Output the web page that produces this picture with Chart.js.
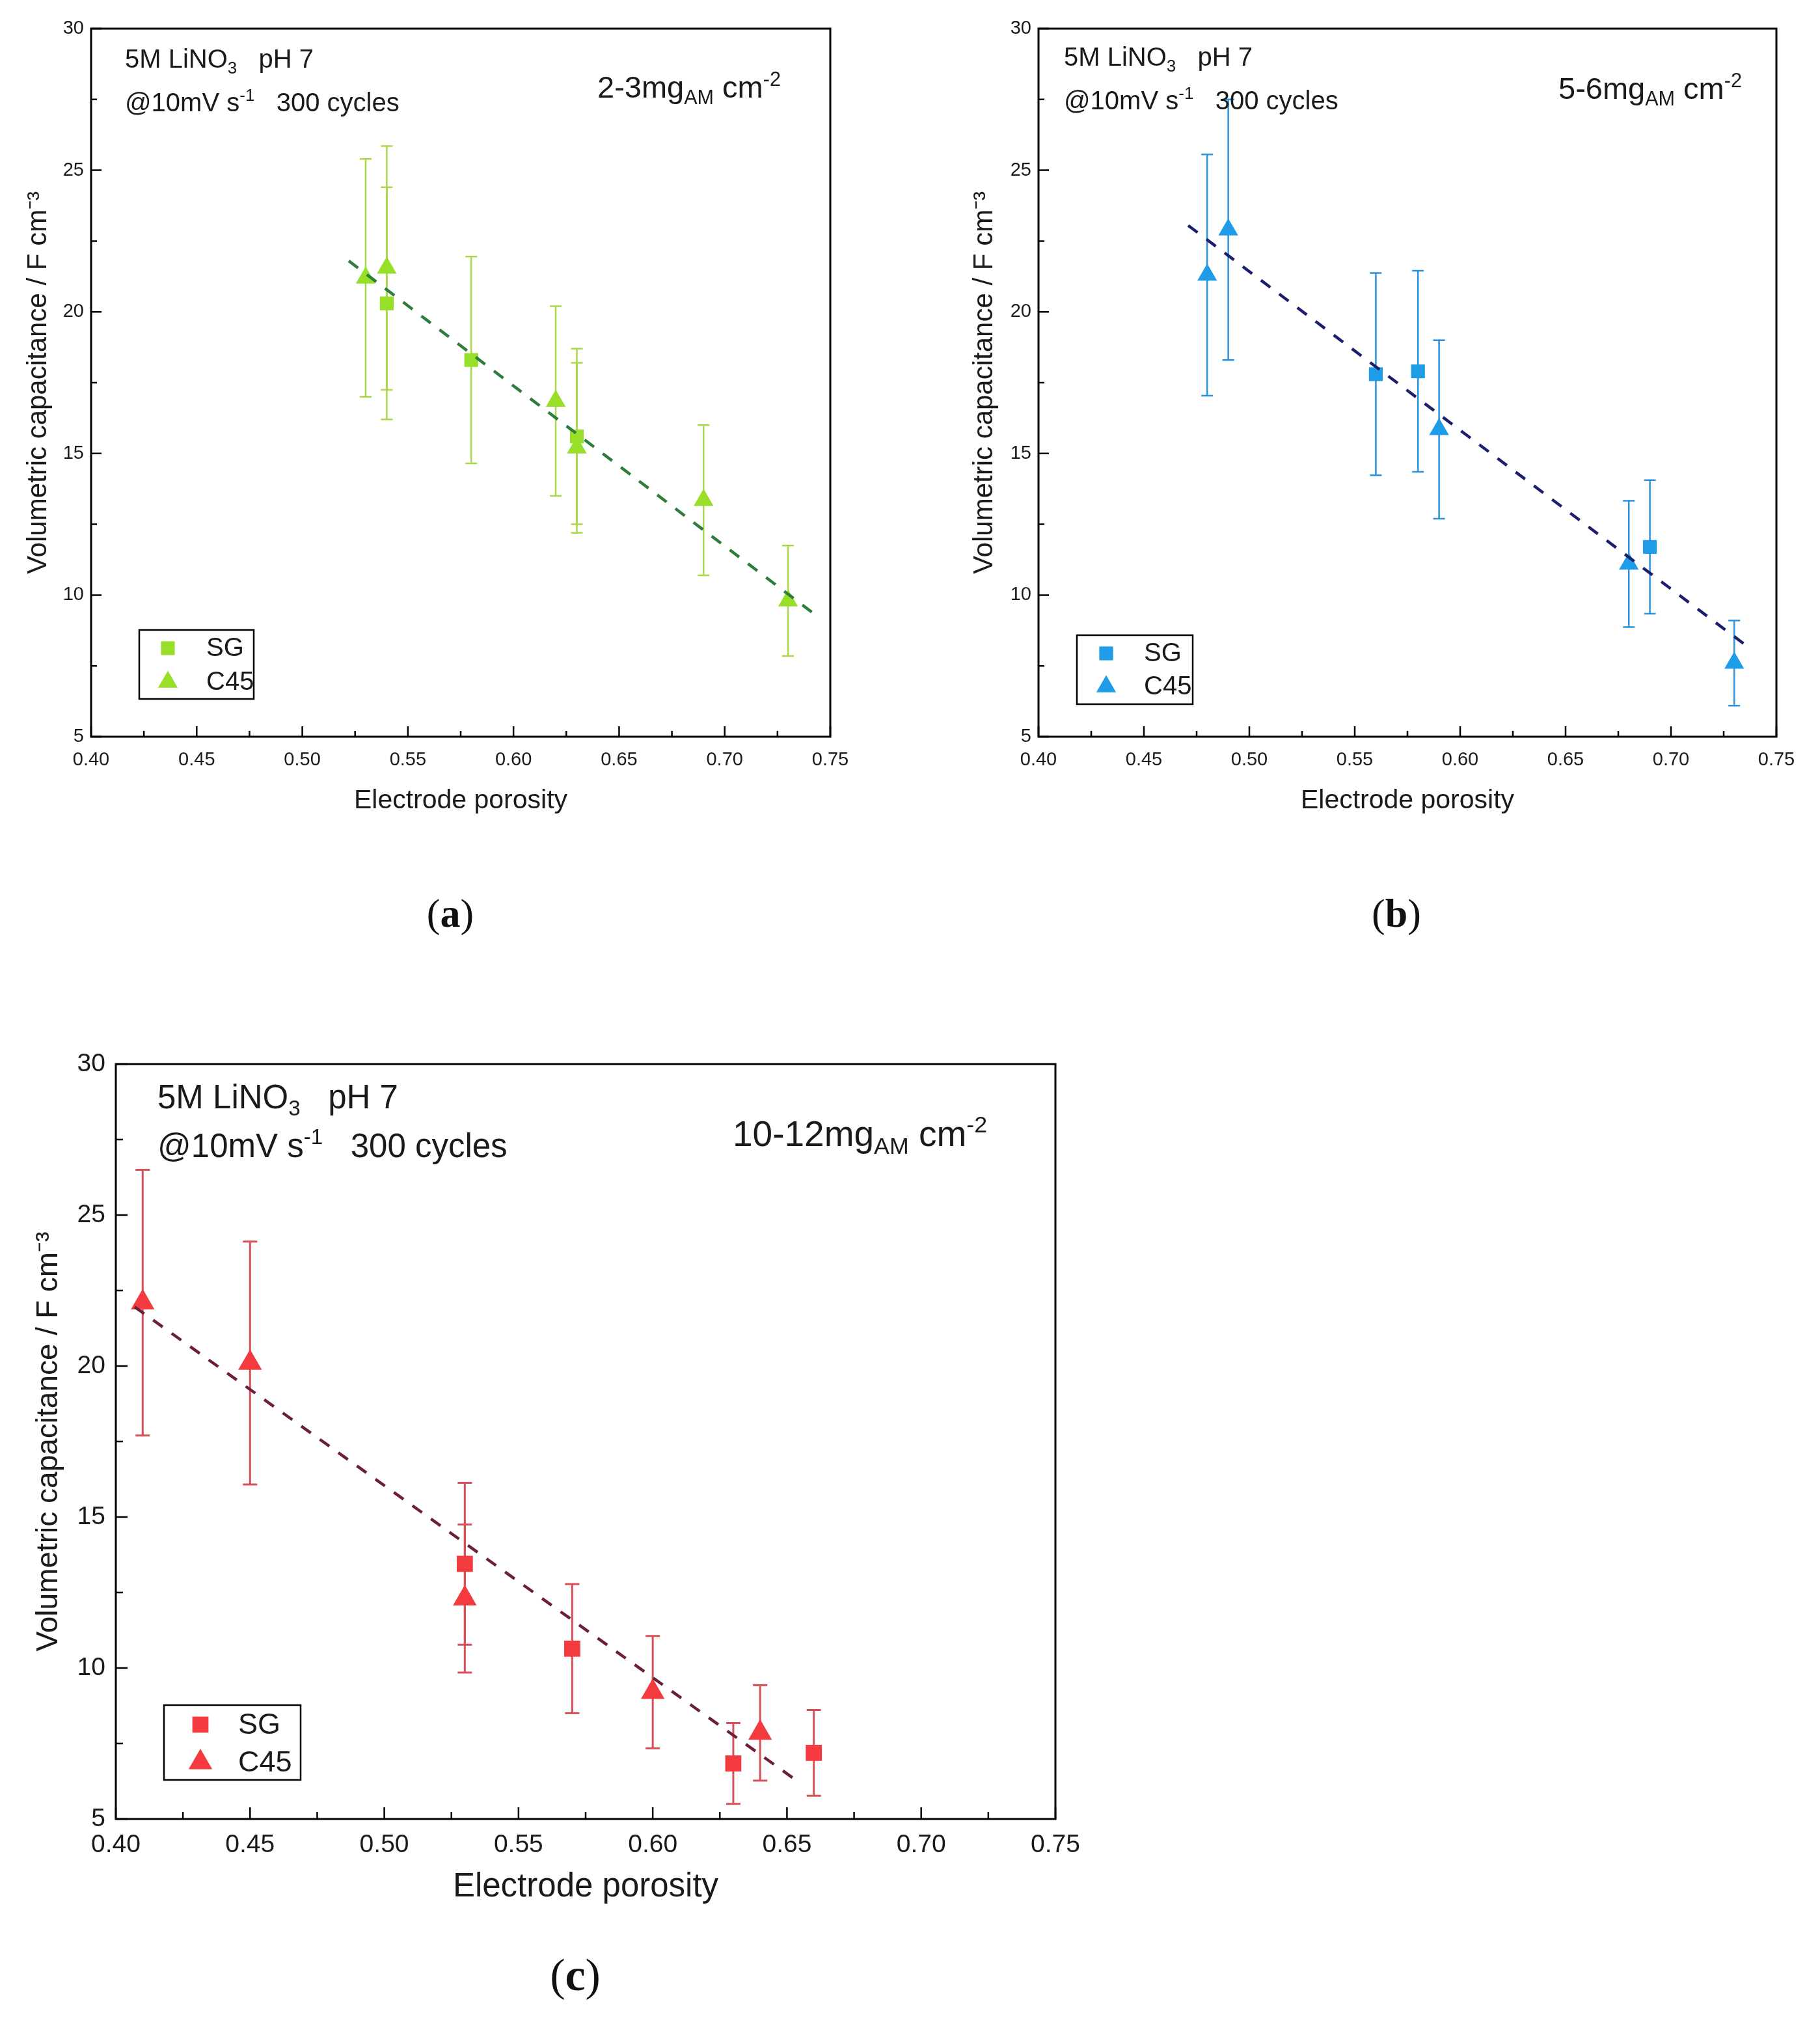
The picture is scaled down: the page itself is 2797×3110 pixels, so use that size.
<!DOCTYPE html>
<html><head><meta charset="utf-8">
<script src="https://cdn.jsdelivr.net/npm/chart.js@4.4.1/dist/chart.umd.min.js"></script>
<style>
html,body{margin:0;padding:0;background:#fff;}
#page{position:relative;width:2797px;height:3110px;overflow:hidden;background:#fff;}
canvas{position:absolute;}
.ann{position:absolute;line-height:1;white-space:nowrap;font-family:'Liberation Sans',Arial,sans-serif;color:#1a1a1a;}
.sub{font-size:0.65em;position:relative;top:0.33em;}
.sup{font-size:0.65em;position:relative;top:-0.6em;}
.cap{position:absolute;line-height:1;white-space:nowrap;font-family:'Liberation Serif','Times New Roman',serif;color:#111;transform:translateX(-50%);}
</style></head>
<body><div id="page">
<canvas id="cA" width="1340" height="1300" style="left:0px;top:0px;width:1340px;height:1300px"></canvas>
<canvas id="cB" width="1337" height="1300" style="left:1460px;top:0px;width:1337px;height:1300px"></canvas>
<canvas id="cC" width="1700" height="1450" style="left:0px;top:1550px;width:1700px;height:1450px"></canvas>

<div class="ann" style="left:192px;top:70px;font-size:40px">5M LiNO<span class="sub">3</span>&nbsp;&nbsp;&nbsp;pH 7</div>
<div class="ann" style="left:192px;top:137px;font-size:40px">@10mV s<span class="sup">-1</span>&nbsp;&nbsp;&nbsp;300 cycles</div>
<div class="ann" style="left:918px;top:110px;font-size:47px">2-3mg<span class="sub">AM</span> cm<span class="sup">-2</span></div>

<div class="ann" style="left:1635px;top:67px;font-size:40px">5M LiNO<span class="sub">3</span>&nbsp;&nbsp;&nbsp;pH 7</div>
<div class="ann" style="left:1635px;top:134px;font-size:40px">@10mV s<span class="sup">-1</span>&nbsp;&nbsp;&nbsp;300 cycles</div>
<div class="ann" style="left:2395px;top:112px;font-size:47px">5-6mg<span class="sub">AM</span> cm<span class="sup">-2</span></div>

<div class="ann" style="left:242px;top:1660px;font-size:51px">5M LiNO<span class="sub">3</span>&nbsp;&nbsp;&nbsp;pH 7</div>
<div class="ann" style="left:242px;top:1735px;font-size:51px">@10mV s<span class="sup">-1</span>&nbsp;&nbsp;&nbsp;300 cycles</div>
<div class="ann" style="left:1126px;top:1715px;font-size:55px">10-12mg<span class="sub">AM</span> cm<span class="sup">-2</span></div>

<div class="cap" style="left:692px;top:1372px;font-size:62px">(<b>a</b>)</div>
<div class="cap" style="left:2146px;top:1372px;font-size:62px">(<b>b</b>)</div>
<div class="cap" style="left:884px;top:3000px;font-size:70px">(<b>c</b>)</div>
</div>
<script>
// ---------- shared axis text ----------
const xTickValues = [0.40, 0.45, 0.50, 0.55, 0.60, 0.65, 0.70, 0.75];
const xTickLabels = ['0.40', '0.45', '0.50', '0.55', '0.60', '0.65', '0.70', '0.75'];
const yTickValues = [5, 10, 15, 20, 25, 30];
const yTickLabels = ['5', '10', '15', '20', '25', '30'];
const seriesNames = ['SG', 'C45'];
const xTitle = 'Electrode porosity';
const yTitle = 'Volumetric capacitance / F cm\u207B\u00B3';

// ---------- (a) 2-3 mg_AM cm-2 ----------
const aSGx = [0.54, 0.58, 0.63];
const aSGy = [20.3, 18.3, 15.6];
const aSGerr = [4.1, 3.65, 3.1];
const aC45x = [0.53, 0.54, 0.62, 0.63, 0.69, 0.73];
const aC45y = [21.2, 21.55, 16.85, 15.2, 13.35, 9.8];
const aC45err = [4.2, 4.3, 3.35, 3.0, 2.65, 1.95];
const aFitX = [0.522, 0.743];
const aFitY = [21.8, 9.3];

// ---------- (b) 5-6 mg_AM cm-2 ----------
const bSGx = [0.56, 0.58, 0.69];
const bSGy = [17.8, 17.9, 11.7];
const bSGerr = [3.57, 3.55, 2.36];
const bC45x = [0.48, 0.49, 0.59, 0.68, 0.73];
const bC45y = [21.3, 22.9, 15.85, 11.1, 7.6];
const bC45err = [4.26, 4.6, 3.15, 2.23, 1.5];
const bFitX = [0.471, 0.736];
const bFitY = [23.05, 8.2];

// ---------- (c) 10-12 mg_AM cm-2 ----------
const cSGx = [0.53, 0.57, 0.63, 0.66];
const cSGy = [13.45, 10.64, 6.84, 7.19];
const cSGerr = [2.68, 2.14, 1.34, 1.42];
const cC45x = [0.41, 0.45, 0.53, 0.60, 0.64];
const cC45y = [22.1, 20.1, 12.3, 9.2, 7.85];
const cC45err = [4.4, 4.02, 2.45, 1.86, 1.58];
const cFitX = [0.407, 0.653];
const cFitY = [21.96, 6.31];

const FONT = "'Liberation Sans', Arial, sans-serif";
const TXT = '#1a1a1a';
Chart.defaults.font.family = FONT;
Chart.defaults.color = TXT;

function pts(xs, ys) { return xs.map((x, i) => ({ x: x, y: ys[i] })); }

function drawMarker(ctx, style, r, x, y) {
  ctx.beginPath();
  if (style === 'rect') {
    const s = r * Math.SQRT1_2;
    ctx.rect(x - s, y - s, 2 * s, 2 * s);
  } else {
    let rad = 0;
    const step = 2 * Math.PI / 3;
    ctx.moveTo(x + Math.sin(rad) * r, y - Math.cos(rad) * r);
    rad += step; ctx.lineTo(x + Math.sin(rad) * r, y - Math.cos(rad) * r);
    rad += step; ctx.lineTo(x + Math.sin(rad) * r, y - Math.cos(rad) * r);
    ctx.closePath();
  }
  ctx.fill();
}

const decoPlugin = {
  id: 'deco',
  beforeDatasetsDraw(chart, args, o) {
    const ctx = chart.ctx, ys = chart.scales.y;
    ctx.save();
    ctx.lineWidth = o.errWidth;
    ctx.strokeStyle = o.errColor;
    o.errors.forEach((errs, k) => {
      const di = k + 1;
      const ds = chart.data.datasets[di];
      const meta = chart.getDatasetMeta(di);
      meta.data.forEach((el, i) => {
        const v = ds.data[i].y, e = errs[i];
        const t = ys.getPixelForValue(v + e), b = ys.getPixelForValue(v - e), px = el.x;
        ctx.beginPath();
        ctx.moveTo(px, t); ctx.lineTo(px, b);
        ctx.moveTo(px - o.cap, t); ctx.lineTo(px + o.cap, t);
        ctx.moveTo(px - o.cap, b); ctx.lineTo(px + o.cap, b);
        ctx.stroke();
      });
    });
    ctx.restore();
  },
  afterDraw(chart, args, o) {
    const ctx = chart.ctx, ca = chart.chartArea, xs = chart.scales.x, ys = chart.scales.y;
    ctx.save();
    ctx.strokeStyle = '#000';
    ctx.lineWidth = o.frame;
    ctx.strokeRect(ca.left, ca.top, ca.right - ca.left, ca.bottom - ca.top);
    ctx.lineWidth = o.tickWidth;
    const mid = arr => arr.slice(1).map((v, i) => (v + arr[i]) / 2);
    const xv = xs.ticks.map(t => t.value), yv = ys.ticks.map(t => t.value);
    ctx.beginPath();
    xv.forEach(v => { const p = xs.getPixelForValue(v); ctx.moveTo(p, ca.bottom); ctx.lineTo(p, ca.bottom - o.major); });
    mid(xv).forEach(v => { const p = xs.getPixelForValue(v); ctx.moveTo(p, ca.bottom); ctx.lineTo(p, ca.bottom - o.minor); });
    yv.forEach(v => { const p = ys.getPixelForValue(v); ctx.moveTo(ca.left, p); ctx.lineTo(ca.left + o.major, p); });
    mid(yv).forEach(v => { const p = ys.getPixelForValue(v); ctx.moveTo(ca.left, p); ctx.lineTo(ca.left + o.minor, p); });
    ctx.stroke();
    // legend box
    const L = o.legend;
    ctx.lineWidth = L.border;
    ctx.strokeRect(L.x1, L.y1, L.x2 - L.x1, L.y2 - L.y1);
    [1, 2].forEach((di, r) => {
      const ds = chart.data.datasets[di];
      const cy = L.rows[r];
      ctx.fillStyle = ds.backgroundColor;
      drawMarker(ctx, ds.pointStyle, ds.pointRadius, L.mx, cy);
      ctx.fillStyle = TXT;
      ctx.font = L.fontSize + 'px ' + FONT;
      ctx.textBaseline = 'middle';
      ctx.textAlign = 'left';
      ctx.fillText(ds.label, L.tx, cy + L.fontSize * 0.03);
    });
    ctx.restore();
  }
};

function makePanel(id, p) {
  return new Chart(document.getElementById(id), {
    type: 'scatter',
    data: {
      datasets: [
        { label: 'fit', data: pts(p.fitX, p.fitY), showLine: true, borderColor: p.fitColor, borderWidth: p.fitWidth,
          borderDash: p.dash, pointRadius: 0, pointHoverRadius: 0, fill: false, order: 0 },
        { label: seriesNames[0], data: pts(p.sgX, p.sgY), pointStyle: 'rect', pointRadius: p.sqR, pointHoverRadius: p.sqR,
          backgroundColor: p.color, borderColor: p.color, borderWidth: 0, order: 2 },
        { label: seriesNames[1], data: pts(p.c45X, p.c45Y), pointStyle: 'triangle', pointRadius: p.triR, pointHoverRadius: p.triR,
          backgroundColor: p.color, borderColor: p.color, borderWidth: 0, order: 1 }
      ]
    },
    options: {
      responsive: false, animation: false, devicePixelRatio: 1,
      layout: { padding: p.pad },
      plugins: {
        legend: { display: false }, tooltip: { enabled: false },
        deco: { errors: [p.sgErr, p.c45Err], errColor: p.errColor, errWidth: p.errWidth, cap: p.cap,
                frame: p.frame, tickWidth: p.tickWidth, major: p.major, minor: p.minor, legend: p.legend }
      },
      scales: {
        x: {
          type: 'linear', position: 'bottom', min: 0.40, max: 0.75,
          afterBuildTicks: s => { s.ticks = xTickValues.map(v => ({ value: v })); },
          afterFit: s => { s.height = p.xH; },
          grid: { display: false, drawTicks: false }, border: { display: false },
          ticks: { callback: (v, i) => xTickLabels[i], font: { size: p.tickFont }, color: TXT, padding: p.xTickPad, maxRotation: 0, autoSkip: false },
          title: { display: true, text: xTitle, font: { size: p.xTitleFont }, color: TXT, padding: { top: 0, bottom: p.xTitlePad } }
        },
        y: {
          type: 'linear', position: 'left', min: 5, max: 30,
          afterBuildTicks: s => { s.ticks = yTickValues.map(v => ({ value: v })); },
          afterFit: s => { s.width = p.yW; },
          grid: { display: false, drawTicks: false }, border: { display: false },
          ticks: { callback: (v, i) => yTickLabels[i], font: { size: p.tickFont }, color: TXT, padding: p.yTickPad, autoSkip: false },
          title: { display: true, text: yTitle, font: { size: p.yTitleFont }, color: TXT, padding: { top: p.yTitlePad, bottom: 0 } }
        }
      }
    },
    plugins: [decoPlugin]
  });
}

makePanel('cA', {
  sgX: aSGx, sgY: aSGy, sgErr: aSGerr, c45X: aC45x, c45Y: aC45y, c45Err: aC45err, fitX: aFitX, fitY: aFitY,
  color: '#98df2a', errColor: '#a9d84a', fitColor: '#2e7d3c', fitWidth: 4.5, dash: [18, 17],
  sqR: 15, triR: 17.5, cap: 9, errWidth: 2.5, frame: 3, tickWidth: 2.5, major: 16, minor: 9,
  pad: { left: 0, top: 44, right: 64, bottom: 44 }, xH: 124, yW: 140,
  tickFont: 29, xTickPad: 19, yTickPad: 11, xTitleFont: 41, xTitlePad: 1, yTitleFont: 42, yTitlePad: 34,
  legend: { x1: 214, y1: 968, x2: 390, y2: 1074, mx: 258, tx: 317, rows: [996, 1048], fontSize: 40, border: 2.5 }
});

makePanel('cB', {
  sgX: bSGx, sgY: bSGy, sgErr: bSGerr, c45X: bC45x, c45Y: bC45y, c45Err: bC45err, fitX: bFitX, fitY: bFitY,
  color: '#1e9ce8', errColor: '#2a93dc', fitColor: '#1c1f6e', fitWidth: 4.5, dash: [18, 17],
  sqR: 15, triR: 17.5, cap: 9, errWidth: 2.5, frame: 3, tickWidth: 2.5, major: 16, minor: 9,
  pad: { left: 0, top: 44, right: 67, bottom: 44 }, xH: 124, yW: 136,
  tickFont: 29, xTickPad: 19, yTickPad: 11, xTitleFont: 41, xTitlePad: 1, yTitleFont: 42, yTitlePad: 28,
  legend: { x1: 195, y1: 976, x2: 373, y2: 1082, mx: 240, tx: 298, rows: [1004, 1055], fontSize: 40, border: 2.5 }
});

makePanel('cC', {
  sgX: cSGx, sgY: cSGy, sgErr: cSGerr, c45X: cC45x, c45Y: cC45y, c45Err: cC45err, fitX: cFitX, fitY: cFitY,
  color: '#f23a3f', errColor: '#d8505a', fitColor: '#6b1f3c', fitWidth: 4.5, dash: [18, 17],
  sqR: 17.5, triR: 21, cap: 11, errWidth: 3, frame: 3, tickWidth: 2.5, major: 18, minor: 11,
  pad: { left: 0, top: 85, right: 78, bottom: 69 }, xH: 136, yW: 178,
  tickFont: 39, xTickPad: 17, yTickPad: 16, xTitleFont: 51, xTitlePad: 0, yTitleFont: 46, yTitlePad: 48,
  legend: { x1: 252, y1: 1070, x2: 462, y2: 1185, mx: 308, tx: 366, rows: [1100, 1158], fontSize: 45, border: 2.5 }
});
</script>
</body></html>
